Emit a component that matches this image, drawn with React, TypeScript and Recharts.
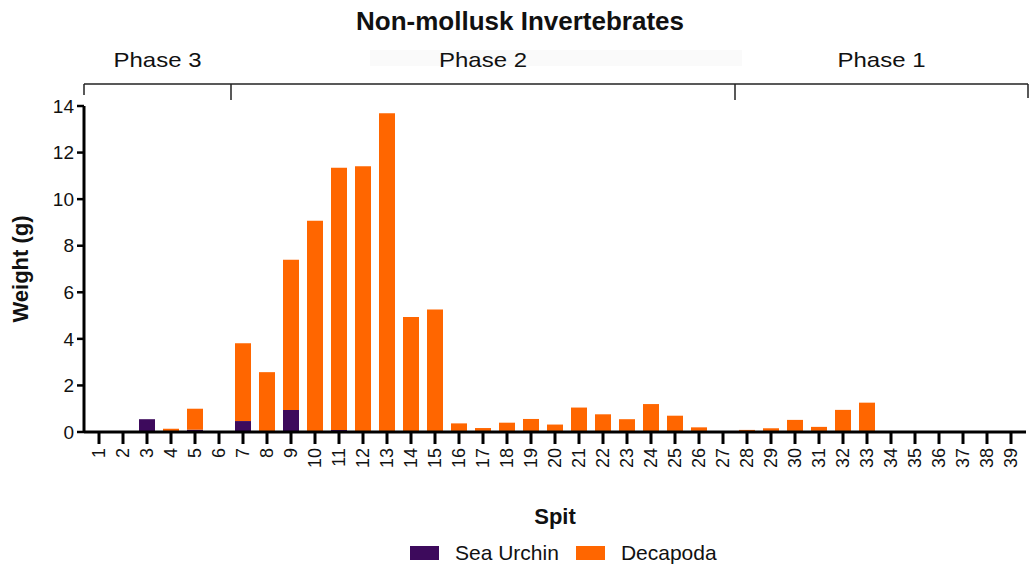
import { BarChart, Bar, XAxis, YAxis } from "recharts";

const spits = [
  "1", "2", "3", "4", "5", "6", "7", "8", "9", "10",
  "11", "12", "13", "14", "15", "16", "17", "18", "19", "20",
  "21", "22", "23", "24", "25", "26", "27", "28", "29", "30",
  "31", "32", "33", "34", "35", "36", "37", "38", "39",
];

const seaUrchin = [
  0, 0, 0.55, 0.04, 0.1, 0, 0.47, 0, 0.95, 0,
  0.09, 0, 0, 0, 0, 0, 0, 0, 0, 0,
  0, 0, 0, 0, 0, 0, 0, 0, 0, 0,
  0, 0, 0, 0, 0, 0, 0, 0, 0,
];

const decapoda = [
  0, 0, 0, 0.1, 0.9, 0, 3.34, 2.57, 6.45, 9.07,
  11.26, 11.41, 13.69, 4.94, 5.26, 0.37, 0.17, 0.4, 0.56, 0.32,
  1.05, 0.76, 0.55, 1.2, 0.7, 0.2, 0.03, 0.09, 0.16, 0.52,
  0.22, 0.95, 1.26, 0, 0, 0, 0, 0, 0,
];

const yTicks = [0, 2, 4, 6, 8, 10, 12, 14];

// phase brackets above the plot: [label, first spit, last spit]
const phases: [string, number, number][] = [
  ["Phase 3", 1, 6],
  ["Phase 2", 7, 27],
  ["Phase 1", 28, 39],
];

const series = [
  { key: "seaUrchin", name: "Sea Urchin", color: "#3d0a5c" },
  { key: "decapoda", name: "Decapoda", color: "#ff6600" },
];

const data = spits.map((s, i) => ({
  spit: s,
  seaUrchin: seaUrchin[i],
  decapoda: decapoda[i],
}));

const FONT = "'Liberation Sans', Arial, sans-serif";
const W = 1030;
const H = 569;
const M = { top: 106, right: 4, bottom: 37, left: 8 };
const Y_AXIS_W = 76;
const X_PAD = 3;
const PLOT_LEFT = M.left + Y_AXIS_W;
const PLOT_RIGHT = W - M.right;
const BAND = (PLOT_RIGHT - PLOT_LEFT - 2 * X_PAD) / spits.length;
const BRACKET_Y = 84;

const SpitTick = (props: any) => {
  const { x, y, payload } = props;
  return (
    <text
      x={x}
      y={y}
      transform={`rotate(-90 ${x} ${y})`}
      textAnchor="end"
      dominantBaseline="central"
      fontSize={18}
      fontFamily={FONT}
      fill="#111"
    >
      {payload.value}
    </text>
  );
};

function PhaseBrackets() {
  const edge = (i: number) => PLOT_LEFT + X_PAD + i * BAND;
  return (
    <svg
      width={W}
      height={110}
      style={{ position: "absolute", left: 0, top: 0, pointerEvents: "none" }}
    >
      <text
        x={520}
        y={30}
        textAnchor="middle"
        fontSize={26}
        fontWeight="bold"
        fontFamily={FONT}
        fill="#111"
      >
        Non-mollusk Invertebrates
      </text>
      {/* faint box left behind the middle label in the original */}
      <rect x={370} y={50} width={372} height={16} fill="#fafafa" />
      <line x1={PLOT_LEFT} x2={PLOT_RIGHT + 2} y1={BRACKET_Y} y2={BRACKET_Y} stroke="#222" strokeWidth={1.5} />
      {phases.map(([label, from, to], i) => {
        const x0 = i === 0 ? PLOT_LEFT : edge(from - 1);
        const x1 = i === phases.length - 1 ? PLOT_RIGHT + 2 : edge(to);
        return (
          <g key={label}>
            <line x1={x0} x2={x0} y1={BRACKET_Y} y2={i === 0 ? 95 : 100} stroke="#222" strokeWidth={1.5} />
            {i === phases.length - 1 && (
              <line x1={x1} x2={x1} y1={BRACKET_Y} y2={98} stroke="#222" strokeWidth={1.5} />
            )}
            <text
              x={(x0 + x1) / 2}
              y={67}
              textAnchor="middle"
              fontSize={21}
              fontFamily={FONT}
              fill="#111"
              textLength={88}
              lengthAdjust="spacingAndGlyphs"
            >
              {label}
            </text>
          </g>
        );
      })}
    </svg>
  );
}

export default function App() {
  return (
    <div
      style={{
        position: "absolute",
        left: 0,
        top: 0,
        width: W,
        height: H,
        background: "#fff",
        fontFamily: FONT,
      }}
    >
      <BarChart width={W} height={H} data={data} margin={M} barSize={16}>
        <XAxis
          dataKey="spit"
          interval={0}
          padding={{ left: X_PAD, right: X_PAD }}
          height={100}
          axisLine={{ stroke: "#000", strokeWidth: 3 }}
          tickLine={{ stroke: "#000", strokeWidth: 3 }}
          tickSize={12}
          tickMargin={4}
          tick={<SpitTick />}
          label={{
            value: "Spit",
            position: "insideBottom",
            offset: 8,
            fontSize: 22,
            fontWeight: "bold",
            fontFamily: FONT,
            fill: "#111",
          }}
        />
        <YAxis
          width={Y_AXIS_W}
          domain={[0, 14]}
          ticks={yTicks}
          interval={0}
          axisLine={{ stroke: "#000", strokeWidth: 3 }}
          tickLine={{ stroke: "#000", strokeWidth: 2.5 }}
          tickSize={7}
          tickMargin={3}
          tick={{ fontSize: 19, fontFamily: FONT, fill: "#111" }}
          label={{
            value: "Weight (g)",
            angle: -90,
            position: "insideLeft",
            offset: 12,
            fontSize: 22,
            fontWeight: "bold",
            fontFamily: FONT,
            fill: "#111",
            style: { textAnchor: "middle" },
          }}
        />
        {series.map((s) => (
          <Bar
            key={s.key}
            dataKey={s.key}
            name={s.name}
            stackId="w"
            fill={s.color}
            isAnimationActive={false}
          />
        ))}
      </BarChart>
      <PhaseBrackets />
      {/* legend */}
      <div
        style={{
          position: "absolute",
          left: 410,
          top: 541,
          display: "flex",
          alignItems: "center",
          fontSize: 21,
          color: "#111",
        }}
      >
        {series.map((s) => (
          <div key={s.key} style={{ display: "flex", alignItems: "center", marginRight: 17 }}>
            <span style={{ width: 29, height: 14, background: s.color, marginRight: 16 }} />
            {s.name}
          </div>
        ))}
      </div>
    </div>
  );
}
